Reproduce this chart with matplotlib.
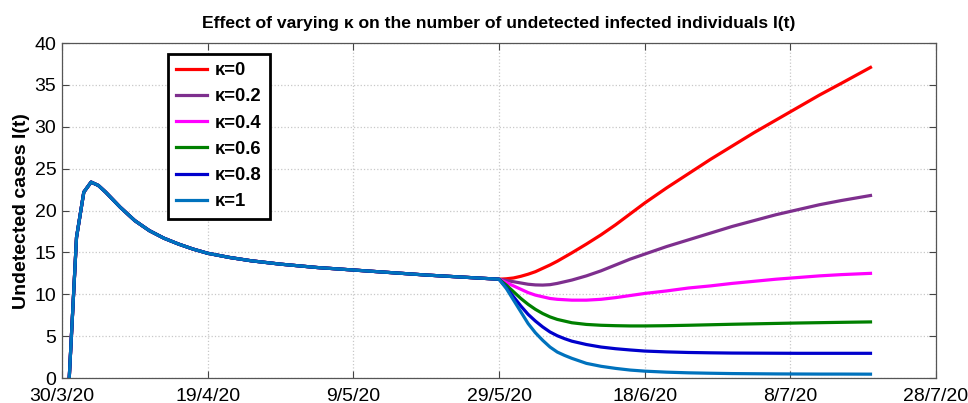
import numpy as np
import matplotlib
matplotlib.use('Agg')
import matplotlib.pyplot as plt

# 共同轨迹（30/3/20 起的天数）
common_days = [1, 2, 3, 4, 5, 6, 7, 8, 9, 10, 12, 14, 16, 18, 20, 23, 26, 30,
               35, 40, 45, 50, 55]
common_vals = [0, 16.8, 22.2, 23.4, 23.0, 22.2, 21.3, 20.4, 19.6, 18.8, 17.6,
               16.7, 16.0, 15.4, 14.9, 14.4, 14.0, 13.6, 13.2, 12.9, 12.6,
               12.3, 12.05]

# 29/5/20 之后不同 κ 的分支
branch_days = [60, 61, 62, 63, 64, 65, 66, 67, 68, 69, 70, 72, 74, 76, 78, 80,
               83, 86, 89, 92, 95, 98, 101, 104, 107, 111]
kappa_0 = [11.8, 11.85, 11.95, 12.15, 12.4, 12.7, 13.1, 13.5, 13.95, 14.45,
           14.95, 16.0, 17.1, 18.3, 19.6, 20.9, 22.7, 24.4, 26.1, 27.7, 29.3,
           30.8, 32.3, 33.8, 35.2, 37.1]
kappa_02 = [11.8, 11.65, 11.5, 11.35, 11.2, 11.12, 11.1, 11.15, 11.3, 11.5,
            11.7, 12.2, 12.8, 13.5, 14.2, 14.8, 15.7, 16.5, 17.3, 18.1, 18.8,
            19.5, 20.1, 20.7, 21.2, 21.8]
kappa_04 = [11.8, 11.4, 11.0, 10.6, 10.2, 9.9, 9.7, 9.5, 9.4, 9.35, 9.3, 9.3,
            9.4, 9.6, 9.85, 10.1, 10.4, 10.75, 11.0, 11.3, 11.55, 11.8, 12.0,
            12.2, 12.35, 12.5]
kappa_06 = [11.8, 11.1, 10.3, 9.5, 8.8, 8.2, 7.7, 7.3, 7.0, 6.8, 6.6, 6.4,
            6.3, 6.25, 6.22, 6.22, 6.25, 6.3, 6.36, 6.42, 6.47, 6.52, 6.57,
            6.61, 6.65, 6.7]
kappa_08 = [11.8, 10.8, 9.7, 8.6, 7.6, 6.8, 6.1, 5.5, 5.05, 4.7, 4.4, 4.0,
            3.7, 3.5, 3.35, 3.22, 3.12, 3.05, 3.01, 2.98, 2.97, 2.96, 2.95,
            2.95, 2.95, 2.95]
kappa_1 = [11.8, 10.7, 9.3, 7.9, 6.5, 5.4, 4.5, 3.7, 3.1, 2.7, 2.35, 1.75,
           1.4, 1.15, 0.95, 0.82, 0.7, 0.62, 0.57, 0.53, 0.51, 0.49, 0.48,
           0.47, 0.47, 0.46]

labels = ['κ=0', 'κ=0.2', 'κ=0.4', 'κ=0.6', 'κ=0.8', 'κ=1']
colors = ['#ff0000', '#7e2f8e', '#ff00ff', '#008000', '#0000cc', '#0072bd']

tick_days = [0, 20, 40, 60, 80, 100, 120]
tick_labels = ['30/3/20', '19/4/20', '9/5/20', '29/5/20', '18/6/20',
               '8/7/20', '28/7/20']


def main():
    plt.rcParams['font.family'] = ['Liberation Sans', 'DejaVu Sans']

    fig = plt.figure(figsize=(9.68, 4.03), dpi=100)
    ax = fig.add_axes([0.064, 0.062, 0.903, 0.831])

    series = [kappa_0, kappa_02, kappa_04, kappa_06, kappa_08, kappa_1]
    for vals, lab, col in zip(series, labels, colors):
        x = np.concatenate([common_days, branch_days])
        y = np.concatenate([common_vals, vals])
        ax.plot(x, y, color=col, linewidth=2.3, label=lab)

    ax.set_xlim(0, 120)
    ax.set_ylim(0, 40)
    ax.set_xticks(tick_days)
    ax.set_xticklabels(tick_labels)
    ax.set_yticks(np.arange(0, 41, 5))

    ax.tick_params(axis='both', direction='in', length=5, width=0.8,
                   top=True, right=True, labelsize=14, colors='#444444',
                   labelcolor='black')
    ax.tick_params(axis='x', pad=7)
    ax.tick_params(axis='y', pad=4)
    for sp in ax.spines.values():
        sp.set_color('#555555')
        sp.set_linewidth(0.9)

    ax.grid(True, linestyle=':', color='#c8c8c8', linewidth=0.9)

    ax.set_ylabel('Undetected cases I(t)', fontsize=14, fontweight='bold',
                  labelpad=3)
    ax.set_title('Effect of varying κ on the number of undetected infected '
                 'individuals I(t)', fontsize=12.6, fontweight='bold', pad=11)

    leg = ax.legend(loc='upper left', bbox_to_anchor=(0.121, 0.968),
                    prop={'size': 13.3, 'weight': 'bold'}, handlelength=1.7,
                    labelspacing=0.5, borderpad=0.45, handletextpad=0.4,
                    borderaxespad=0, fancybox=False, framealpha=1)
    leg.get_frame().set_edgecolor('black')
    leg.get_frame().set_linewidth(2)

    plt.savefig('out.png', dpi=100)


if __name__ == '__main__':
    main()
